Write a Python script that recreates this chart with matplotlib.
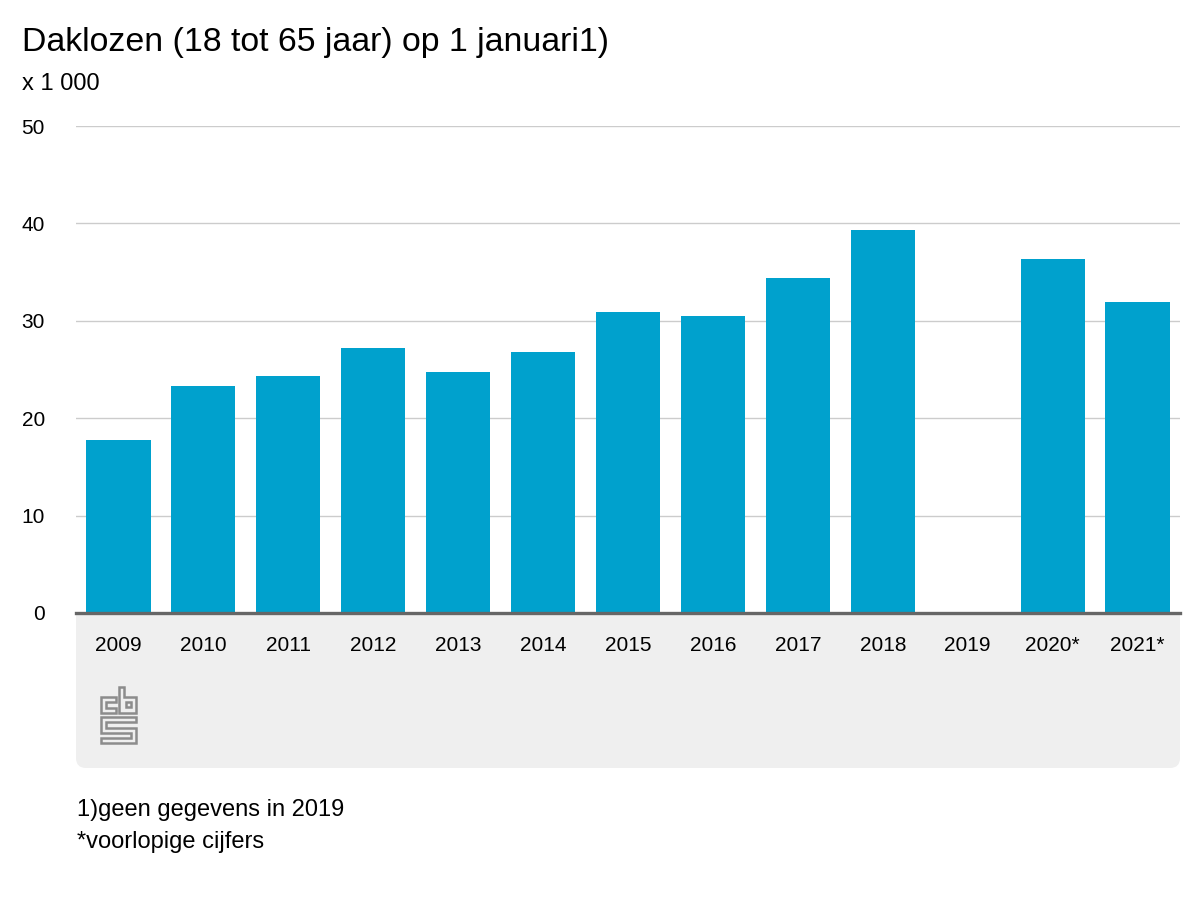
import numpy as np
import matplotlib
matplotlib.use("Agg")
import matplotlib.pyplot as plt
from matplotlib.patches import Polygon, FancyBboxPatch
from matplotlib.transforms import Affine2D

plt.rcParams['font.family'] = ['Liberation Sans', 'DejaVu Sans']

years = ['2009', '2010', '2011', '2012', '2013', '2014', '2015', '2016',
         '2017', '2018', '2019', '2020*', '2021*']
values = [17.8, 23.3, 24.3, 27.2, 24.7, 26.8, 30.9, 30.5, 34.4, 39.3, np.nan, 36.3, 31.9]
yticks = [0, 10, 20, 30, 40, 50]

W, H = 1200, 900
fig = plt.figure(figsize=(12, 9), dpi=100)
px = Affine2D().scale(1 / W, -1 / H).translate(0, 1) + fig.transFigure

ax = fig.add_axes([76 / W, 1 - 613 / H, (1180 - 76) / W, (613 - 126) / H])
x = np.arange(len(years))
ax.bar(x, values, width=0.755, color='#00a1cd', zorder=3)
ax.set_xlim(-0.5, len(years) - 0.5)
ax.set_ylim(0, 50)
ax.set_yticks(yticks)
ax.set_yticklabels([str(v) for v in yticks])
ax.set_xticks(x)
ax.set_xticklabels(years)
ax.grid(axis='y', color='#cccccc', linewidth=1, zorder=0)
for s in ['top', 'right', 'left']:
    ax.spines[s].set_visible(False)
ax.spines['bottom'].set_color('#666666')
ax.spines['bottom'].set_linewidth(2.4)
ax.spines['bottom'].set_zorder(4)
ax.tick_params(axis='both', length=0, labelsize=15, colors='black')
ax.tick_params(axis='y', pad=22.3)
ax.tick_params(axis='x', pad=16.5)
ax.set_facecolor('white')

# gray band
band = FancyBboxPatch((76, 600), 1104, 168, boxstyle='round,pad=0,rounding_size=10',
                      transform=px, facecolor='#efefef', edgecolor='none', zorder=-1)
fig.patches.append(band)

# cbs logo
logo_kw = dict(closed=True, fill=False, edgecolor='#8c8c8c', linewidth=1.8, transform=px)
c_shape = [(116, 697), (101, 697), (101, 713), (116, 713), (116, 708), (106, 708),
           (106, 702), (116, 702)]
b_shape = [(119, 687), (124, 687), (124, 697), (136, 697), (136, 713), (119, 713)]
b_inner = [(126, 702), (131, 702), (131, 707), (126, 707)]
s_shape = [(101, 717), (136, 717), (136, 722), (106, 722), (106, 728), (136, 728),
           (136, 743), (101, 743), (101, 738), (131, 738), (131, 733), (101, 733)]
for shp in [c_shape, b_shape, b_inner, s_shape]:
    fig.patches.append(Polygon(shp, **logo_kw))

fig.text(22 / W, 1 - 51 / H, 'Daklozen (18 tot 65 jaar) op 1 januari1)', fontsize=24.4,
         va='baseline', ha='left')
fig.text(22 / W, 1 - 90 / H, 'x 1 000', fontsize=17, va='baseline', ha='left')
fig.text(77 / W, 1 - 816 / H, '1)geen gegevens in 2019', fontsize=17, va='baseline', ha='left')
fig.text(77 / W, 1 - 848 / H, '*voorlopige cijfers', fontsize=17, va='baseline', ha='left')

fig.savefig('out.png', dpi=100, facecolor='white')
